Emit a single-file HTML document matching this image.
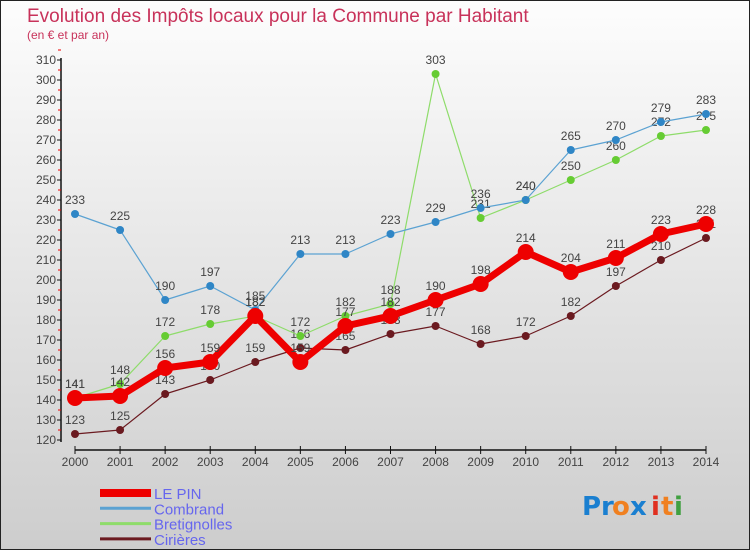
<!DOCTYPE html>
<html><head><meta charset="utf-8"><style>
html,body{margin:0;padding:0}
body{width:750px;height:550px;overflow:hidden;font-family:"Liberation Sans",sans-serif}
</style></head><body>
<svg id="chart" width="750" height="550" xmlns="http://www.w3.org/2000/svg">
<defs><linearGradient id="bg" x1="0" y1="0" x2="0" y2="1"><stop offset="0" stop-color="#fdfdfd"/><stop offset="1" stop-color="#cdcdcd"/></linearGradient></defs>
<rect x="0.5" y="0.5" width="749" height="549" fill="url(#bg)" stroke="#222" stroke-width="1"/>
<text x="27" y="22" font-size="19" fill="#c8325a">Evolution des Impôts locaux pour la Commune par Habitant</text>
<text x="27" y="39" font-size="12" fill="#c8325a">(en € et par an)</text>
<g id="axes"></g>
<g id="series"></g>
<g id="legend"></g>
<g font-size="26" font-family="'DejaVu Sans',sans-serif" font-weight="bold">
<text x="582" y="515" fill="#1a7fd0">Pr</text><text x="612" y="515" fill="#f08020">o</text><text x="630" y="515" fill="#1a7fd0">x</text><text x="651" y="515" fill="#e03020">i</text><text x="661" y="515" fill="#f08020">t</text><text x="674" y="515" fill="#40a040">i</text>
</g>
</svg>
<script>
const years=[2000,2001,2002,2003,2004,2005,2006,2007,2008,2009,2010,2011,2012,2013,2014];
const lePin=[141,142,156,159,182,159,177,182,190,198,214,204,211,223,228];
const combrand=[233,225,190,197,185,213,213,223,229,236,240,265,270,279,283];
const bretignolles=[141,148,172,178,182,172,182,188,303,231,240,250,260,272,275];
cirieres=[123,125,143,150,159,166,165,173,177,168,172,182,197,210,221];
const yTicks=[120,130,140,150,160,170,180,190,200,210,220,230,240,250,260,270,280,290,300,310];
const NS="http://www.w3.org/2000/svg";
const xS=i=>75+i*(706-75)/(years.length-1);
const yS=v=>440-(v-120)*2;
function mk(tag,attrs,parent){const e=document.createElementNS(NS,tag);for(const k in attrs)e.setAttribute(k,attrs[k]);parent.appendChild(e);return e;}
const axes=document.getElementById('axes');
let yl=mk('line',{x1:61,y1:58,x2:61,y2:442,stroke:'#111','stroke-width':1.5},axes);


yTicks.forEach(v=>{
 let t=mk('line',{x1:57,x2:61,y1:yS(v),y2:yS(v),stroke:'#111'},axes);
 
 
 let m=mk('line',{x1:58,x2:61,y1:yS(v+5),y2:yS(v+5),stroke:'#e00'},axes);
 
 
 let l=mk('text',{x:56,y:yS(v)+4,'font-size':12,fill:'#444','text-anchor':'end'},axes);
 l.textContent=v;
 
 
});
let xl=mk('line',{x1:75,y1:450,x2:706,y2:450,stroke:'#111','stroke-width':1.5},axes);


years.forEach((y,i)=>{
 let t=mk('line',{x1:xS(i),x2:xS(i),y1:446,y2:454,stroke:'#111'},axes);
 
 
 let l=mk('text',{x:xS(i),y:466,'font-size':12,fill:'#444','text-anchor':'middle'},axes);
 l.textContent=y;
 
 
});
const series=[
 {name:'cirieres',label:'Cirières',data:cirieres,color:'#6b1a20',w:1.2,r:4},
 {name:'bretignolles',label:'Bretignolles',data:bretignolles,color:'#8edc6a',w:1.2,r:4,fill:'#66cc33'},
 {name:'combrand',label:'Combrand',data:combrand,color:'#5ba2d2',w:1.2,r:4,fill:'#2f86c6'},
 {name:'le-pin',label:'LE PIN',data:lePin,color:'#ee0000',w:7,r:8}
];
const sg=document.getElementById('series');
series.forEach(s=>{
 const g=mk('g',{},sg);
 
 
 let p=mk('polyline',{points:s.data.map((v,i)=>xS(i)+','+yS(v)).join(' '),fill:'none',stroke:s.color,'stroke-width':s.w,'stroke-linejoin':'round'},g);
 
 
 s.data.forEach((v,i)=>{
  let c=mk('circle',{cx:xS(i),cy:yS(v),r:s.r,fill:s.fill||s.color},g);
  
  
  let t=mk('text',{x:xS(i),y:yS(v)-10,'font-size':12,fill:'#444','text-anchor':'middle'},g);
  t.textContent=v;
  
  
 });
});
const lg=document.getElementById('legend');
const legOrder=[series[3],series[2],series[1],series[0]];
legOrder.forEach((s,k)=>{
 const y=493+k*15.3;
 const g=mk('g',{},lg);
 
 
 let l=mk('line',{x1:100,x2:151,y1:y,y2:y,stroke:s.color,'stroke-width':k==0?8:3},g);
 
 
 let t=mk('text',{x:154,y:y+6,'font-size':15,fill:'#6666ee'},g);
 t.textContent=s.label;
 
 
});
</script>
</body></html>
